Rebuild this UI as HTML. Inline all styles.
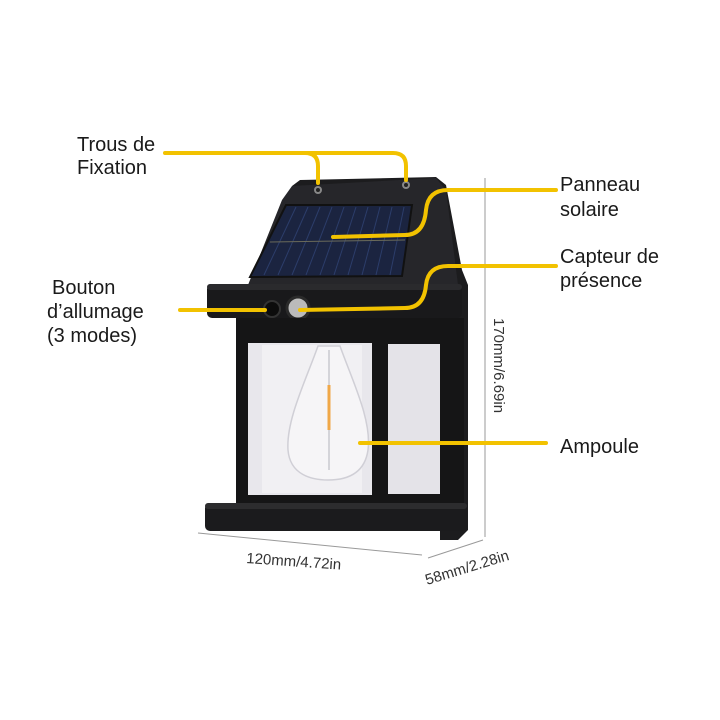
<!DOCTYPE html>
<html><head><meta charset="utf-8"><style>
html,body{margin:0;padding:0;background:#fff;}
svg{display:block}
.l{font-family:"Liberation Sans",sans-serif;font-size:20px;fill:#1a1a1a}
.d{font-family:"Liberation Sans",sans-serif;font-size:15px;fill:#333}
</style></head><body>
<svg width="720" height="720" viewBox="0 0 720 720" xmlns="http://www.w3.org/2000/svg">
<rect width="720" height="720" fill="#fff"/>
<line x1="485" y1="178" x2="485" y2="537" stroke="#999" stroke-width="1"/>
<line x1="198" y1="533" x2="422" y2="555" stroke="#999" stroke-width="1"/>
<line x1="428" y1="558" x2="483" y2="540" stroke="#999" stroke-width="1"/>
<text class="d" transform="translate(494,318) rotate(90)">170mm/6.69in</text>
<text class="d" transform="translate(246,563) rotate(4)">120mm/4.72in</text>
<text class="d" transform="translate(427,585) rotate(-17)">58mm/2.28in</text>
<path d="M292,186 L300,180 L436,177 L446,185 L462,270 L468,285 L468,530 L458,540 L440,540 L440,300 Z" fill="#1c1c1e"/>
<path d="M292,186 L436,178 L446,190 L458,285 L248,285 L282,200 Z" fill="#26262a"/>
<circle cx="318" cy="190" r="4" fill="#888"/><circle cx="318" cy="190" r="2" fill="#222"/>
<circle cx="406" cy="185" r="4" fill="#888"/><circle cx="406" cy="185" r="2" fill="#222"/>
<path d="M286,205 L412,205 L402,276 L250,277 Z" fill="#1b2440" stroke="#111" stroke-width="2"/>
<g stroke="#2c3d6a" stroke-width="1">
<line x1="296" y1="207" x2="264" y2="275"/><line x1="308" y1="207" x2="278" y2="275"/>
<line x1="320" y1="207" x2="292" y2="275"/><line x1="332" y1="207" x2="306" y2="275"/>
<line x1="344" y1="207" x2="320" y2="275"/><line x1="356" y1="207" x2="334" y2="275"/>
<line x1="368" y1="207" x2="348" y2="275"/><line x1="380" y1="207" x2="362" y2="275"/>
<line x1="392" y1="207" x2="376" y2="275"/><line x1="404" y1="207" x2="390" y2="275"/>
</g>
<line x1="270" y1="242" x2="405" y2="240" stroke="#6a6a5a" stroke-width="1"/>
<rect x="207" y="284" width="255" height="34" rx="5" fill="#19191b"/>
<rect x="207" y="284" width="255" height="6" rx="3" fill="#2a2a2d"/>
<circle cx="272" cy="309" r="8" fill="#0c0c0c" stroke="#333" stroke-width="2"/>
<circle cx="298" cy="308" r="11" fill="#bbb" stroke="#2a2a2a" stroke-width="3"/>
<rect x="236" y="318" width="228" height="195" fill="#151516"/>
<rect x="248" y="343" width="124" height="152" fill="#e8e7ec"/>
<rect x="262" y="345" width="100" height="148" fill="#f1f0f3"/>
<rect x="388" y="344" width="52" height="150" fill="#e4e3e8"/>
<path d="M318,346 L340,346 C352,380 372,420 368,450 C364,478 340,480 328,480 C312,480 290,475 288,450 C286,420 306,380 318,346 Z" fill="#f6f5f7" stroke="#d0cfd6" stroke-width="1.5"/>
<line x1="329" y1="350" x2="329" y2="470" stroke="#c9c9cf" stroke-width="1.5"/>
<line x1="329" y1="385" x2="329" y2="430" stroke="#f0a848" stroke-width="3"/>
<rect x="205" y="503" width="262" height="28" rx="5" fill="#1b1b1d"/>
<rect x="205" y="503" width="262" height="6" rx="3" fill="#2c2c2e"/>
<g fill="none" stroke="#f2c200" stroke-width="4" stroke-linecap="round">
<path d="M165,153 L305,153 Q318,153 318,166 L318,183"/>
<path d="M300,153 L393,153 Q406,153 406,166 L406,180"/>
<path d="M556,190 L448,190 Q428,190 426,210 Q424,235 405,235 L333,237"/>
<path d="M556,266 L448,266 Q428,266 426,285 Q424,308 405,308 L300,310"/>
<path d="M180,310 L265,310"/>
<path d="M360,443 L546,443"/>
</g>
<text class="l" x="77" y="151">Trous de</text>
<text class="l" x="77" y="174">Fixation</text>
<text class="l" x="560" y="191">Panneau</text>
<text class="l" x="560" y="216">solaire</text>
<text class="l" x="560" y="263">Capteur de</text>
<text class="l" x="560" y="287">présence</text>
<text class="l" x="52" y="294">Bouton</text>
<text class="l" x="47" y="318">d’allumage</text>
<text class="l" x="47" y="342">(3 modes)</text>
<text class="l" x="560" y="453">Ampoule</text>
</svg>
</body></html>
